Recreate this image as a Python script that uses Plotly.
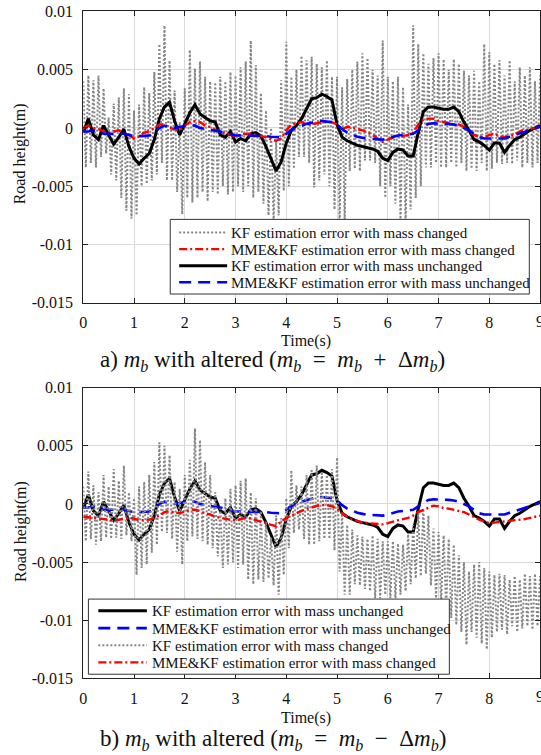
import plotly.graph_objects as go

# ---------------- data (values in mm) ----------------
t = [round(0.1 * k, 1) for k in range(91)]            # Time (s)
t_half = [round(0.1 * k + 0.05, 2) for k in range(90)]  # Time (s), mid samples

kf_unchanged = [-0.4, 0.8, -0.6, -1.0, 0.2, -0.6, -1.4, -0.8, -0.1, -1.6,
                -2.6, -3.1, -2.6, -2.2, -1.0, 0.8, 1.8, 2.2, 0.6, -0.6,
                0.3, 1.3, 2.0, 1.2, 0.9, 0.6, 0.5, -0.6, -0.8, -0.3,
                -1.2, -0.9, -1.1, -0.5, -0.4, -0.7, -1.6, -2.7, -3.7, -2.9,
                -1.3, -0.2, 0.2, 0.8, 1.7, 2.5, 2.6, 2.9, 2.7, 2.4,
                0.3, -0.8, -1.1, -1.3, -1.5, -1.6, -1.7, -1.8, -2.0, -2.6,
                -2.8, -2.1, -1.8, -1.9, -2.4, -2.4, -0.4, 1.4, 1.8, 1.8,
                1.7, 1.6, 1.6, 1.8, 1.4, 0.5, -0.2, -1.0, -1.2, -1.5,
                -1.9, -1.3, -1.3, -2.1, -1.5, -1.0, -0.8, -0.5, -0.2, 0.0, 0.2]

mme_unchanged = [-0.3, -0.3, -0.2, -0.3, -0.5, -0.5, -0.5, -0.45, -0.5, -0.6,
                 -0.7, -0.7, -0.7, -0.65, -0.4, 0.0, 0.2, 0.05, 0.0, 0.1,
                 0.2, 0.25, 0.2, 0.0, -0.1, -0.15, -0.2, -0.3, -0.45, -0.55,
                 -0.65, -0.65, -0.65, -0.65, -0.65, -0.65, -0.7, -0.75, -0.8, -0.8,
                 -0.5, -0.15, 0.0, 0.2, 0.35, 0.45, 0.6, 0.6, 0.55, 0.5,
                 0.3, -0.1, -0.4, -0.6, -0.75, -0.85, -0.95, -0.95, -1.0, -1.0,
                 -0.9, -0.75, -0.65, -0.6, -0.55, -0.5, -0.2, 0.1, 0.35, 0.4,
                 0.4, 0.35, 0.35, 0.3, 0.2, 0.0, -0.2, -0.5, -0.8, -0.9,
                 -0.9, -0.9, -0.95, -0.9, -0.75, -0.6, -0.5, -0.35, -0.2, 0.0, 0.1]

# a) m_b + dm_b : KF error oscillates between upper and lower envelope readings
kf_plus_hi = [4.0, 4.5, 4.1, 4.5, 3.4, 0.9, 2.1, 2.6, 3.4, 2.9,
              1.5, 2.0, 3.5, 3.0, 4.8, 7.2, 8.8, 5.8, 3.2, 0.5,
              3.4, 6.7, 5.1, 5.7, 4.4, 4.0, 3.9, 4.4, 4.0, 4.8,
              4.5, 5.2, 5.7, 7.5, 5.4, 3.0, 1.5, 0.0, -1.0, 4.1,
              7.4, 4.4, 5.0, 6.2, 5.8, 6.1, 5.5, 5.2, 5.8, 4.4,
              4.4, 3.5, 4.2, 5.0, 5.7, 6.4, 6.0, 5.0, 4.5, 7.5,
              4.4, 4.0, 4.4, 3.5, 2.0, 8.8, 7.2, 6.4, 5.5, 6.0,
              6.4, 5.9, 5.0, 5.9, 5.5, 4.9, 4.5, 4.9, 4.0, 7.2,
              6.5, 5.5, 5.8, 4.5, 5.8, 4.0, 5.2, 4.5, 5.2, 4.0, 4.5]
kf_plus_lo = [-3.4, -3.0, -3.4, -2.5, -2.2, -4.0, -4.5, -6.0, -7.1, -7.8,
              -7.5, -5.0, -4.8, -4.5, -4.0, -3.0, -4.5, -4.5, -5.5, -7.4,
              -6.0, -6.4, -6.0, -5.5, -6.3, -5.5, -5.7, -5.0, -5.7, -5.5,
              -5.0, -5.5, -5.0, -6.0, -5.5, -6.5, -7.5, -8.0, -7.5, -5.4,
              -5.0, -3.5, -2.5, -2.5, -3.0, -5.1, -4.5, -4.0, -5.0, -7.0,
              -8.3, -8.0, -3.7, -3.5, -3.7, -2.8, -2.8, -3.0, -5.0, -6.0,
              -5.0, -6.5, -8.0, -8.3, -7.0, -6.0, -5.0, -3.4, -3.4, -3.0,
              -3.4, -3.4, -3.0, -3.4, -3.0, -3.7, -3.5, -3.7, -3.0, -3.7,
              -3.5, -3.0, -3.1, -3.0, -3.1, -2.8, -3.4, -3.0, -3.4, -3.0]

mme_changed_plus = [0.0, 0.2, 0.0, -0.1, -0.3, -0.4, -0.3, -0.2, -0.5, -0.6,
                    -0.9, -0.7, -0.4, -0.3, 0.0, 0.3, 0.3, 0.0, -0.1, -0.2,
                    0.2, 0.5, 0.6, 0.5, 0.2, 0.1, -0.2, -0.3, -0.5, -0.6,
                    -0.7, -0.6, -0.5, -0.5, -0.6, -0.7, -0.8, -1.0, -1.1, -0.9,
                    -0.2, 0.3, 0.4, 0.5, 0.3, 0.3, 0.4, 0.5, 0.5, 0.5,
                    0.3, -0.1, 0.1, 0.0, -0.1, -0.2, -0.4, -0.6, -0.9, -1.2,
                    -1.0, -0.8, -0.7, -0.7, -0.6, -0.4, 0.3, 0.7, 0.8, 0.8,
                    0.6, 0.5, 0.4, 0.3, 0.3, 0.1, -0.3, -0.6, -0.8, -0.8,
                    -0.6, -0.5, -0.7, -0.8, -0.7, -0.6, -0.3, -0.2, -0.1, 0.0, 0.1]

# b) m_b - dm_b
kf_minus_hi = [1.5, 2.8, 1.6, 1.0, 2.5, 1.5, 3.0, 2.0, 3.3, 1.0,
               0.5, 1.5, 1.9, 2.5, 3.6, 5.3, 5.0, 4.2, 1.9, 1.3,
               2.5, 3.8, 6.5, 5.5, 3.6, 2.5, 1.0, -0.4, 0.5, 1.3,
               1.6, 2.0, 2.2, 1.0, 0.5, -0.6, -1.5, -2.9, -1.0, -1.2,
               0.5, 2.9, 1.6, 1.5, 2.5, 3.0, 3.3, 2.8, 2.5, 3.0,
               4.0, -0.8, -1.8, -2.2, -2.7, -2.8, -3.0, -2.7, -3.0, -3.2,
               -3.2, -3.2, -3.4, -3.5, -2.6, -1.8, -0.6, -0.4, -1.0, -2.1,
               -2.4, -2.7, -3.0, -3.5, -4.4, -5.0, -5.8, -5.2, -5.0, -5.5,
               -5.8, -6.1, -6.0, -6.1, -6.5, -6.2, -6.5, -6.0, -6.2, -6.0, -6.2]
kf_minus_lo = [-3.2, -3.0, -3.5, -3.2, -2.9, -3.0, -2.9, -3.0, -2.7, -3.2,
               -6.1, -5.5, -5.2, -4.2, -3.5, -2.4, -2.5, -3.0, -4.1, -5.2,
               -3.2, -2.8, -3.0, -3.2, -3.5, -3.8, -4.5, -5.5, -5.2, -5.0,
               -5.5, -5.2, -6.5, -6.9, -6.5, -6.7, -6.4, -7.0, -7.8, -6.1,
               -3.8, -2.5, -2.2, -3.0, -3.5, -3.5, -3.2, -3.0, -3.0, -4.0,
               -5.8, -7.8, -7.8, -6.9, -7.0, -7.3, -7.5, -8.1, -8.1, -7.8,
               -8.1, -8.1, -7.8, -7.5, -6.9, -6.4, -6.2, -6.0, -7.0, -8.1,
               -8.5, -9.0, -9.8, -10.4, -11.0, -12.1, -11.0, -11.5, -12.0, -12.5,
               -11.5, -11.0, -10.8, -11.2, -10.5, -11.0, -10.7, -10.5, -10.8, -10.5]

mme_changed_minus = [-1.1, -1.15, -1.2, -1.2, -1.3, -1.3, -1.4, -1.35, -1.3, -1.2,
                     -1.25, -1.4, -1.4, -1.35, -1.2, -1.0, -0.7, -0.6, -0.75, -0.8,
                     -0.65, -0.5, -0.5, -0.6, -0.8, -0.9, -1.1, -1.2, -1.3, -1.35,
                     -1.4, -1.3, -1.2, -1.25, -1.4, -1.5, -1.65, -1.8, -1.9, -1.5,
                     -1.2, -1.0, -0.85, -0.6, -0.4, -0.3, -0.15, -0.1, -0.1, -0.2,
                     -0.4, -0.8, -1.1, -1.3, -1.45, -1.6, -1.65, -1.7, -1.75, -1.75,
                     -1.65, -1.5, -1.4, -1.3, -1.2, -1.0, -0.7, -0.5, -0.3, -0.15,
                     -0.2, -0.35, -0.4, -0.5, -0.6, -0.7, -0.9, -1.15, -1.35, -1.5,
                     -1.65, -1.6, -1.55, -1.5, -1.5, -1.45, -1.4, -1.3, -1.2, -1.1, -1.0]

x_tickvals = [0, 1, 2, 3, 4, 5, 6, 7, 8]
y_tickvals = [-0.015, -0.01, -0.005, 0, 0.005, 0.01]
y_ticktext = ["-0.015", "-0.01", "-0.005", "0", "0.005", "0.01"]

lbl_kf_ch = "KF estimation error with mass changed"
lbl_mme_ch = "MME&KF estimation error with mass changed"
lbl_kf_un = "KF estimation error with mass unchanged"
lbl_mme_un = "MME&KF estimation error with mass unchanged"


def m(v):
    return [x / 1000.0 for x in v]


def zigzag(hi, lo):
    """Merge upper/lower readings into one time-ordered series."""
    xs, ys = [], []
    for k in range(len(hi)):
        xs.append(t[k]); ys.append(hi[k])
        if k < len(lo):
            xs.append(t_half[k]); ys.append(lo[k])
    return xs, m(ys)


# ---------------- geometry ----------------
# Targets are given in pixels of the final 541x755 picture; the page
# offsets/compresses the figure slightly, which px/py compensate.
W, H = 541, 766
OX = 1.5
OY, SY = 8.3, 0.976
FONT = "Liberation Serif"
TXT = "#111111"
GRAY = "#858585"
X0 = 81.5          # picture pixel of t=0
XS = 51.23         # pixels per second


def fx(X):
    return X - OX


def fy(Y):
    return (Y - OY) / SY


def px(X):
    return fx(X) / W


def py(Y):
    return 1 - fy(Y) / H


xmax = (W - fx(X0)) / XS

sty = {
    "kf_ch": dict(color=GRAY, width=2.0, dash="2px,2px"),
    "mme_ch": dict(color="#ff0000", width=2.4, dash="8px,3px,2px,3px"),
    "kf_un": dict(color="#000000", width=3),
    "mme_un": dict(color="#0000ff", width=2.6, dash="12px,7px"),
}

fig = go.Figure()

gx, gy = zigzag(kf_plus_hi, kf_plus_lo)
fig.add_trace(go.Scatter(x=gx, y=gy, mode="lines", line=sty["kf_ch"], name=lbl_kf_ch, xaxis="x", yaxis="y"))
fig.add_trace(go.Scatter(x=t, y=m(kf_unchanged), mode="lines", line=sty["kf_un"], name=lbl_kf_un, xaxis="x", yaxis="y"))
fig.add_trace(go.Scatter(x=t, y=m(mme_changed_plus), mode="lines", line=sty["mme_ch"], name=lbl_mme_ch, xaxis="x", yaxis="y"))
fig.add_trace(go.Scatter(x=t, y=m(mme_unchanged), mode="lines", line=sty["mme_un"], name=lbl_mme_un, xaxis="x", yaxis="y"))

gx2, gy2 = zigzag(kf_minus_hi, kf_minus_lo)
fig.add_trace(go.Scatter(x=t, y=m(kf_unchanged), mode="lines", line=sty["kf_un"], name=lbl_kf_un, xaxis="x2", yaxis="y2"))
fig.add_trace(go.Scatter(x=t, y=m(mme_unchanged), mode="lines", line=sty["mme_un"], name=lbl_mme_un, xaxis="x2", yaxis="y2"))
fig.add_trace(go.Scatter(x=gx2, y=gy2, mode="lines", line=sty["kf_ch"], name=lbl_kf_ch, xaxis="x2", yaxis="y2"))
fig.add_trace(go.Scatter(x=t, y=m(mme_changed_minus), mode="lines", line=sty["mme_ch"], name=lbl_mme_ch, xaxis="x2", yaxis="y2"))

xax = dict(range=[0, xmax], tickvals=x_tickvals, ticks="inside", ticklen=5, tickcolor="#222",
           showline=True, linecolor="#222", linewidth=1, mirror="ticks",
           showgrid=True, gridcolor="#d9d9d9", gridwidth=1, zeroline=False,
           tickfont=dict(family=FONT, size=16, color=TXT), ticklabelstandoff=5,
           domain=[px(X0), 1])
yax = dict(range=[-0.015, 0.01], tickvals=y_tickvals, ticktext=y_ticktext, ticks="inside",
           ticklen=5, tickcolor="#222", showline=True, linecolor="#222", linewidth=1,
           mirror="ticks", showgrid=True, gridcolor="#d9d9d9", gridwidth=1, zeroline=False,
           tickfont=dict(family=FONT, size=16, color=TXT), ticklabelstandoff=6)

fig.update_layout(
    width=W, height=H, margin=dict(l=0, r=0, t=0, b=0),
    paper_bgcolor="white", plot_bgcolor="white",
    font=dict(family=FONT, size=16, color=TXT),
    xaxis=dict(xax, anchor="y"),
    yaxis=dict(yax, anchor="x", domain=[py(302.5), py(11.7)]),
    xaxis2=dict(xax, anchor="y2"),
    yaxis2=dict(yax, anchor="x2", domain=[py(677.5), py(387.3)]),
    showlegend=False,
)

ann, shp = [], []


def legend_box(box, rows, labels, styles, sx0, sx1, tx):
    x0, y0, x1, y1 = box
    shp.append(dict(type="rect", xref="paper", yref="paper", x0=px(x0), x1=px(x1), y0=py(y1), y1=py(y0),
                    fillcolor="white", line=dict(color="#333", width=1), layer="above"))
    for yr, lab, st in zip(rows, labels, styles):
        shp.append(dict(type="line", xref="paper", yref="paper", x0=px(sx0), x1=px(sx1), y0=py(yr), y1=py(yr),
                        line=dict(color=st["color"], width=st["width"], dash=st.get("dash", "solid")),
                        layer="above"))
        ann.append(dict(text=lab, x=px(tx), y=py(yr + 0.5), xref="paper", yref="paper", showarrow=False,
                        xanchor="left", yanchor="middle", font=dict(family=FONT, size=15, color=TXT)))


legend_box((169.3, 219.3, 531.7, 293.8), [232.5, 249.0, 265.5, 282.0],
           [lbl_kf_ch, lbl_mme_ch, lbl_kf_un, lbl_mme_un],
           [sty["kf_ch"], sty["mme_ch"], sty["kf_un"], sty["mme_un"]], 178.3, 226.7, 229)
legend_box((86.7, 598.3, 451, 673.3), [610.0, 627.3, 644.3, 661.5],
           [lbl_kf_un, lbl_mme_un, lbl_kf_ch, lbl_mme_ch],
           [sty["kf_un"], sty["mme_un"], sty["kf_ch"], sty["mme_ch"]], 96.7, 145.7, 149)

# y titles
for yc in (154, 531):
    ann.append(dict(text="Road height(m)", x=px(18), y=py(yc), xref="paper", yref="paper",
                    textangle=-90, showarrow=False, font=dict(family=FONT, size=16, color=TXT),
                    xanchor="center", yanchor="middle"))
# x titles
for yc in (341, 717):
    ann.append(dict(text="Time(s)", x=px(306), y=py(yc), xref="paper", yref="paper",
                    showarrow=False, font=dict(family=FONT, size=16, color=TXT),
                    xanchor="center", yanchor="middle"))
# clipped "9" tick label at the right edge
for yc in (321, 695.5):
    ann.append(dict(text="9", x=px(X0 + 9 * XS), y=py(yc), xref="paper", yref="paper",
                    showarrow=False, font=dict(family=FONT, size=16, color=TXT),
                    xanchor="center", yanchor="middle"))
# captions
mb = "<i>m</i><sub><i>b</i></sub>"
sp = "&nbsp;&nbsp;"
cap_a = "a) " + mb + " with altered (" + mb + sp + "=" + sp + mb + sp + "+" + sp + "Δ" + mb + ")"
cap_b = "b) " + mb + " with altered (" + mb + sp + "=" + sp + mb + sp + "−" + sp + "Δ" + mb + ")"
ann.append(dict(text=cap_a, x=px(272), y=py(361), xref="paper", yref="paper", showarrow=False,
                font=dict(family=FONT, size=23, color=TXT), xanchor="center", yanchor="middle"))
ann.append(dict(text=cap_b, x=px(273), y=py(739), xref="paper", yref="paper", showarrow=False,
                font=dict(family=FONT, size=23, color=TXT), xanchor="center", yanchor="middle"))

fig.update_layout(annotations=ann, shapes=shp)
fig.write_html("out.html")
